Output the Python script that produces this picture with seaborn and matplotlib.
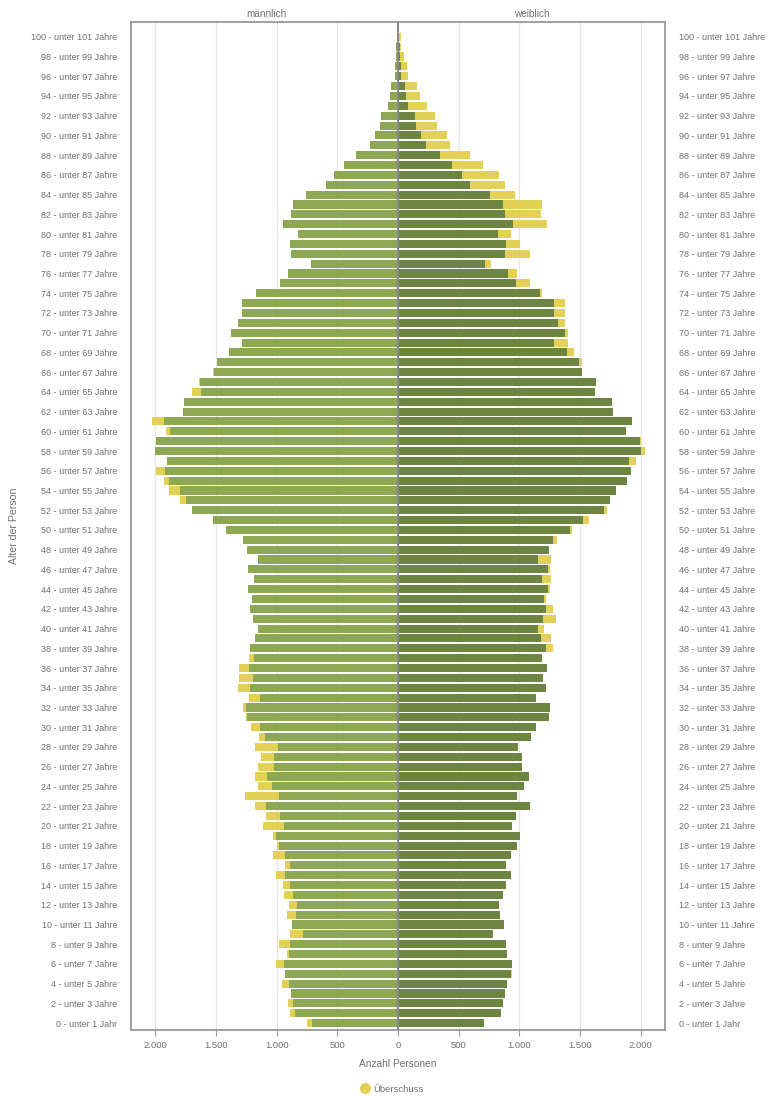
import matplotlib
matplotlib.use("Agg")
import matplotlib.pyplot as plt
from matplotlib.lines import Line2D
import seaborn as sns
import pandas as pd
import numpy as np

# ages 0 .. 101
ages = list(range(0, 102))
male = [747, 886, 903, 880, 954, 928, 1003, 912, 977, 886,
        870, 912, 895, 937, 946, 1003, 929, 1028, 994, 1028,
        1110, 1085, 1176, 1258, 1150, 1176, 1150, 1127, 1176, 1142,
        1210, 1250, 1275, 1224, 1315, 1306, 1306, 1224, 1220, 1178,
        1153, 1195, 1220, 1203, 1236, 1186, 1236, 1152, 1246, 1274,
        1416, 1521, 1695, 1795, 1886, 1926, 1994, 1902, 2000, 1993,
        1908, 2025, 1769, 1764, 1695, 1640, 1528, 1488, 1394, 1283,
        1377, 1315, 1283, 1283, 1170, 970, 903, 713, 880, 886,
        821, 948, 880, 862, 755, 590, 528, 442, 345, 227,
        193, 145, 136, 82, 65, 54, 28, 28, 18, 15,
        10, 8]
female = [710, 849, 866, 879, 899, 943, 940, 899, 890, 784,
          870, 840, 832, 866, 890, 932, 890, 931, 981, 1005,
          940, 972, 1088, 981, 1040, 1080, 1022, 1022, 990, 1092,
          1140, 1246, 1256, 1140, 1222, 1196, 1229, 1188, 1280, 1258,
          1206, 1298, 1280, 1222, 1254, 1264, 1256, 1264, 1244, 1306,
          1431, 1571, 1718, 1748, 1798, 1889, 1922, 1957, 2039, 2000,
          1880, 1930, 1772, 1760, 1625, 1634, 1519, 1514, 1454, 1397,
          1397, 1372, 1380, 1380, 1188, 1091, 977, 770, 1085, 1002,
          934, 1224, 1181, 1190, 968, 878, 835, 704, 596, 432,
          400, 324, 301, 241, 185, 159, 85, 77, 50, 28,
          22, 8]
xticks = [-2000, -1500, -1000, -500, 0, 500, 1000, 1500, 2000]
xticklabels = ["2.000", "1.500", "1.000", "500", "0", "500", "1.000", "1.500", "2.000"]

def age_label(a):
    return "0 - unter 1 Jahr" if a == 0 else f"{a} - unter {a + 1} Jahre"

df = pd.DataFrame({"age": [str(a) for a in ages], "male": male, "female": female})
df["common"] = np.minimum(df["male"], df["female"])
df["male_neg"] = -df["male"]
df["common_neg"] = -df["common"]
order = [str(a) for a in reversed(ages)]  # 101 on top

C_MALE = "#8DA753"
C_FEMALE = "#6D8540"
C_SURPLUS = "#E2D057"
TXT = "#707070"

sns.set_theme(style="white")
plt.rcParams["font.family"] = ["Liberation Sans Narrow", "DejaVu Sans Condensed", "Liberation Sans", "DejaVu Sans"]

fig = plt.figure(figsize=(7.69, 10.96), dpi=100)
ax = fig.add_axes([131 / 769, 1 - 1030 / 1096, (665 - 131) / 769, (1030 - 22) / 1096])

W = 0.82
kw = dict(y="age", order=order, orient="h", saturation=1, width=W, ax=ax,
          linewidth=0, errorbar=None)
sns.barplot(data=df, x="male_neg", color=C_SURPLUS, **kw)
sns.barplot(data=df, x="common_neg", color=C_MALE, **kw)
sns.barplot(data=df, x="female", color=C_SURPLUS, **kw)
sns.barplot(data=df, x="common", color=C_FEMALE, **kw)

ax.set_xlim(-2200, 2200)
ax.set_ylim(101.7, -0.5)

ax.set_xticks(xticks)
ax.set_xticklabels(xticklabels)
even = [a for a in ages if a % 2 == 0 and a <= 100]
ax.set_yticks([101 - a for a in even])
ax.set_yticklabels([age_label(a) for a in even])
ax.tick_params(axis="y", left=False, right=False, labelleft=True, labelright=True,
               labelsize=6.5, labelcolor=TXT, pad=3.8)
ax.tick_params(axis="x", bottom=True, length=4, color="#999999", width=0.8,
               labelsize=6.8, labelcolor=TXT, pad=4)
ax.set_xlabel("")
ax.set_ylabel("")

ax.grid(False)
for xv in xticks:
    if xv != 0:
        ax.axvline(xv, color="#e6e6e6", lw=1.0, zorder=0)
ax.axvline(0, color="#8a8a8a", lw=1.5, zorder=5)
ax.set_axisbelow(True)

for s in ax.spines.values():
    s.set_visible(True)
    s.set_color("#999999")
    s.set_linewidth(1.3)

fig.text(266 / 769, 1 - 14 / 1096, "männlich", ha="center", va="center", fontsize=7.2, color=TXT)
fig.text(532 / 769, 1 - 14 / 1096, "weiblich", ha="center", va="center", fontsize=7.2, color=TXT)
fig.text(14 / 769, 1 - 526 / 1096, "Alter der Person", ha="center", va="center",
         rotation=90, fontsize=7.6, color=TXT)
fig.text(398 / 769, 1 - 1064 / 1096, "Anzahl Personen", ha="center", va="center",
         fontsize=7.3, color=TXT)

handle = Line2D([], [], marker="o", linestyle="none", markersize=7,
                markerfacecolor=C_SURPLUS, markeredgecolor=C_SURPLUS)
fig.legend([handle], ["Überschuss"], loc="center", bbox_to_anchor=(392 / 769, 1 - 1089 / 1096),
           frameon=False, fontsize=6.8, labelcolor=TXT, handletextpad=0.4, handlelength=1.0)

fig.savefig("out.png", dpi=100)
